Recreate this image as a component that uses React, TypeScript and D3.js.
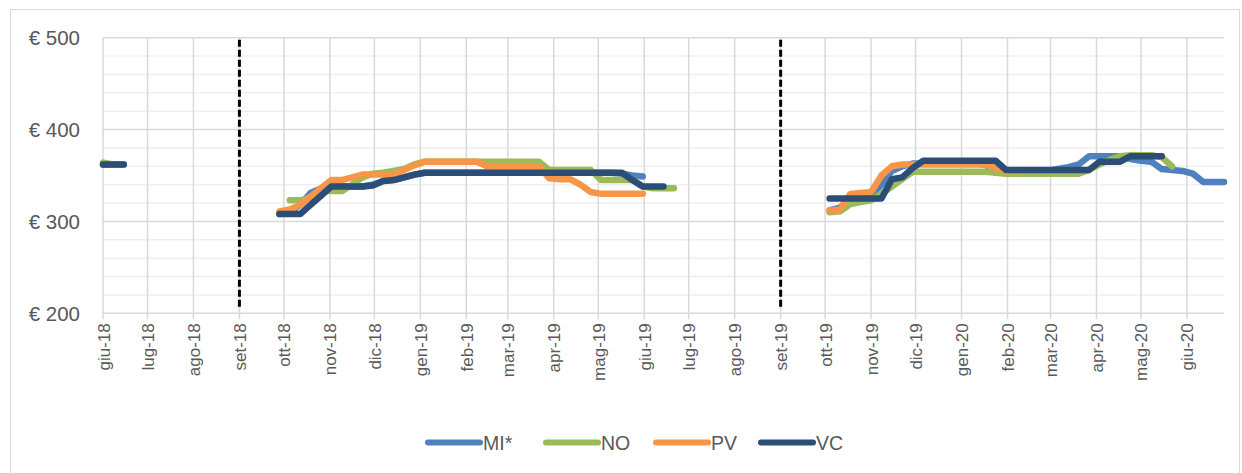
import React from "react";
import * as d3 from "d3";

// weekly prices (€/t), each segment = [first week index, values]
const startDate = new Date(2018, 5, 1);
const lastWeek = 108;

const tickLabels = [
  "giu-18", "lug-18", "ago-18", "set-18", "ott-18", "nov-18", "dic-18",
  "gen-19", "feb-19", "mar-19", "apr-19", "mag-19", "giu-19", "lug-19",
  "ago-19", "set-19", "ott-19", "nov-19", "dic-19", "gen-20", "feb-20",
  "mar-20", "apr-20", "mag-20", "giu-20",
];
const separatorLabels = ["set-18", "set-19"];
const yTicks = [200, 300, 400, 500];

const seriesNames = ["MI*", "NO", "PV", "VC"];
const seriesColors = ["#4F81BD", "#9BBB59", "#F79646", "#2C4D75"];

const miSegments: [number, number[]][] = [
  [0, [362, 362, 362]],
  [17, [308, 310, 318, 331, 336, 338, 338, 338, 338, 340, 344, 345, 348, 351,
    353, 353, 353, 353, 353, 353, 353, 353, 353, 353, 353, 353, 353, 353, 353, 353, 353, 353, 353,
    352, 350, 349]],
  [70, [312, 315, 325, 327, 328, 340, 355, 360, 363, 363, 363, 363, 363, 363, 363, 362, 353, 354,
    355, 355, 355, 355, 357, 359, 362, 371, 371, 371, 371, 368, 366, 365, 357, 356, 355, 352,
    343, 343, 343]],
];

const noSegments: [number, number[]][] = [
  [0, [364, 362]],
  [18, [323, 323, 326, 333, 333, 333, 340, 348, 352, 353, 355, 357, 362,
    365, 365, 365, 365, 365, 365, 365, 365, 365, 365, 365, 365,
    356, 356, 356, 356, 356, 345, 345, 345, 345, 338, 336, 336, 336]],
  [70, [310, 311, 319, 321, 323, 330, 338, 346, 354, 354, 354, 354, 354, 354, 354, 354, 353,
    352, 352, 352, 352, 352, 352, 352, 352, 356, 362, 367, 371, 372, 372, 372, 370, 360]],
];

const pvSegments: [number, number[]][] = [
  [17, [311, 313, 318, 327, 336, 345, 345, 348, 351, 351, 351, 351, 356, 361,
    365, 365, 365, 365, 365, 365, 360, 360, 360, 360, 360, 360,
    347, 346, 346, 340, 332, 330, 330, 330, 330, 330]],
  [70, [312, 313, 330, 331, 332, 350, 360, 362, 362, 362, 362, 362, 362, 362, 362, 362,
    358, 355, 355, 355]],
];

const vcSegments: [number, number[]][] = [
  [0, [362, 362, 362]],
  [17, [308, 308, 308, 318, 328, 338, 338, 338, 338, 339, 344, 345, 348, 351,
    353, 353, 353, 353, 353, 353, 353, 353, 353, 353, 353, 353, 353, 353, 353, 353, 353, 353, 353, 353,
    345, 338, 338, 338]],
  [70, [325, 325, 325, 325, 325, 325, 346, 348, 358, 366, 366, 366, 366, 366, 366, 366, 366,
    356, 356, 356, 356, 356, 356, 356, 356, 356, 365, 365, 365, 371, 371, 371, 371]],
];

const allSegments = [miSegments, noSegments, pvSegments, vcSegments];

const W = 1242;
const H = 473;
const plot = { left: 103, right: 1224, top: 37.7, bottom: 313.3 };
const font = "'Liberation Sans', Arial, sans-serif";
const textColor = "#595959";
const legendX = [425, 543, 653, 758];

const weekDate = (k: number) => d3.timeDay.offset(startDate, k * 7);

export default function App() {
  const x = d3.scaleTime().domain([startDate, weekDate(lastWeek)]).range([plot.left, plot.right]);
  const y = d3.scaleLinear().domain([200, 500]).range([plot.bottom, plot.top]);
  const tickDates = tickLabels.map((_, i) => d3.timeMonth.offset(startDate, i));
  const minorTicks = d3.range(220, 500, 20).filter((v) => v % 100 !== 0);

  const line = d3
    .line<[Date, number]>()
    .x((d) => x(d[0]))
    .y((d) => y(d[1]));

  const paths = allSegments.map((segs) =>
    segs
      .map(([k0, vals]) => line(vals.map((v, i) => [weekDate(k0 + i), v] as [Date, number])))
      .join("")
  );

  return (
    <svg width={W} height={H} style={{ position: "absolute", left: 0, top: 0, background: "#fff" }} fontFamily={font}>
      <rect x={10.5} y={9.5} width={1229} height={480} fill="#fff" stroke="#d9d9d9" strokeWidth={1} />
      {minorTicks.map((v) => (
        <line key={"m" + v} x1={plot.left} x2={plot.right} y1={y(v)} y2={y(v)} stroke="#efefef" strokeWidth={1.5} />
      ))}
      {tickDates.map((d, i) => (
        <line key={"v" + i} x1={x(d)} x2={x(d)} y1={plot.top} y2={plot.bottom + 6} stroke="#d9d9d9" strokeWidth={1.5} />
      ))}
      {yTicks.map((v) => (
        <g key={"y" + v}>
          <line x1={plot.left} x2={plot.right} y1={y(v)} y2={y(v)} stroke="#d9d9d9" strokeWidth={1.5} />
          <text x={80} y={y(v)} textAnchor="end" dominantBaseline="central" fontSize={20.5} fill={textColor}>
            {"€ " + v}
          </text>
        </g>
      ))}
      {tickDates.map((d, i) => (
        <text
          key={"t" + i}
          transform={`translate(${x(d) + 1},${plot.bottom + 10}) rotate(-90)`}
          textAnchor="end"
          dominantBaseline="central"
          fontSize={17}
          fill={textColor}
        >
          {tickLabels[i]}
        </text>
      ))}
      {separatorLabels.map((lab) => {
        const xv = x(tickDates[tickLabels.indexOf(lab)]);
        return (
          <line key={lab} x1={xv} x2={xv} y1={plot.top + 2} y2={plot.bottom - 4} stroke="#000" strokeWidth={3} strokeDasharray="7,3" />
        );
      })}
      {paths.map((p, i) => (
        <path key={seriesNames[i]} d={p || ""} fill="none" stroke={seriesColors[i]} strokeWidth={6.5} strokeLinejoin="round" strokeLinecap="round" />
      ))}
      {seriesNames.map((name, i) => (
        <g key={"l" + name} transform={`translate(${legendX[i]},442.5)`}>
          <line x1={3} x2={55} y1={0} y2={0} stroke={seriesColors[i]} strokeWidth={6} strokeLinecap="round" />
          <text x={58} y={0} dominantBaseline="central" fontSize={19.5} fill={textColor}>
            {name}
          </text>
        </g>
      ))}
    </svg>
  );
}
